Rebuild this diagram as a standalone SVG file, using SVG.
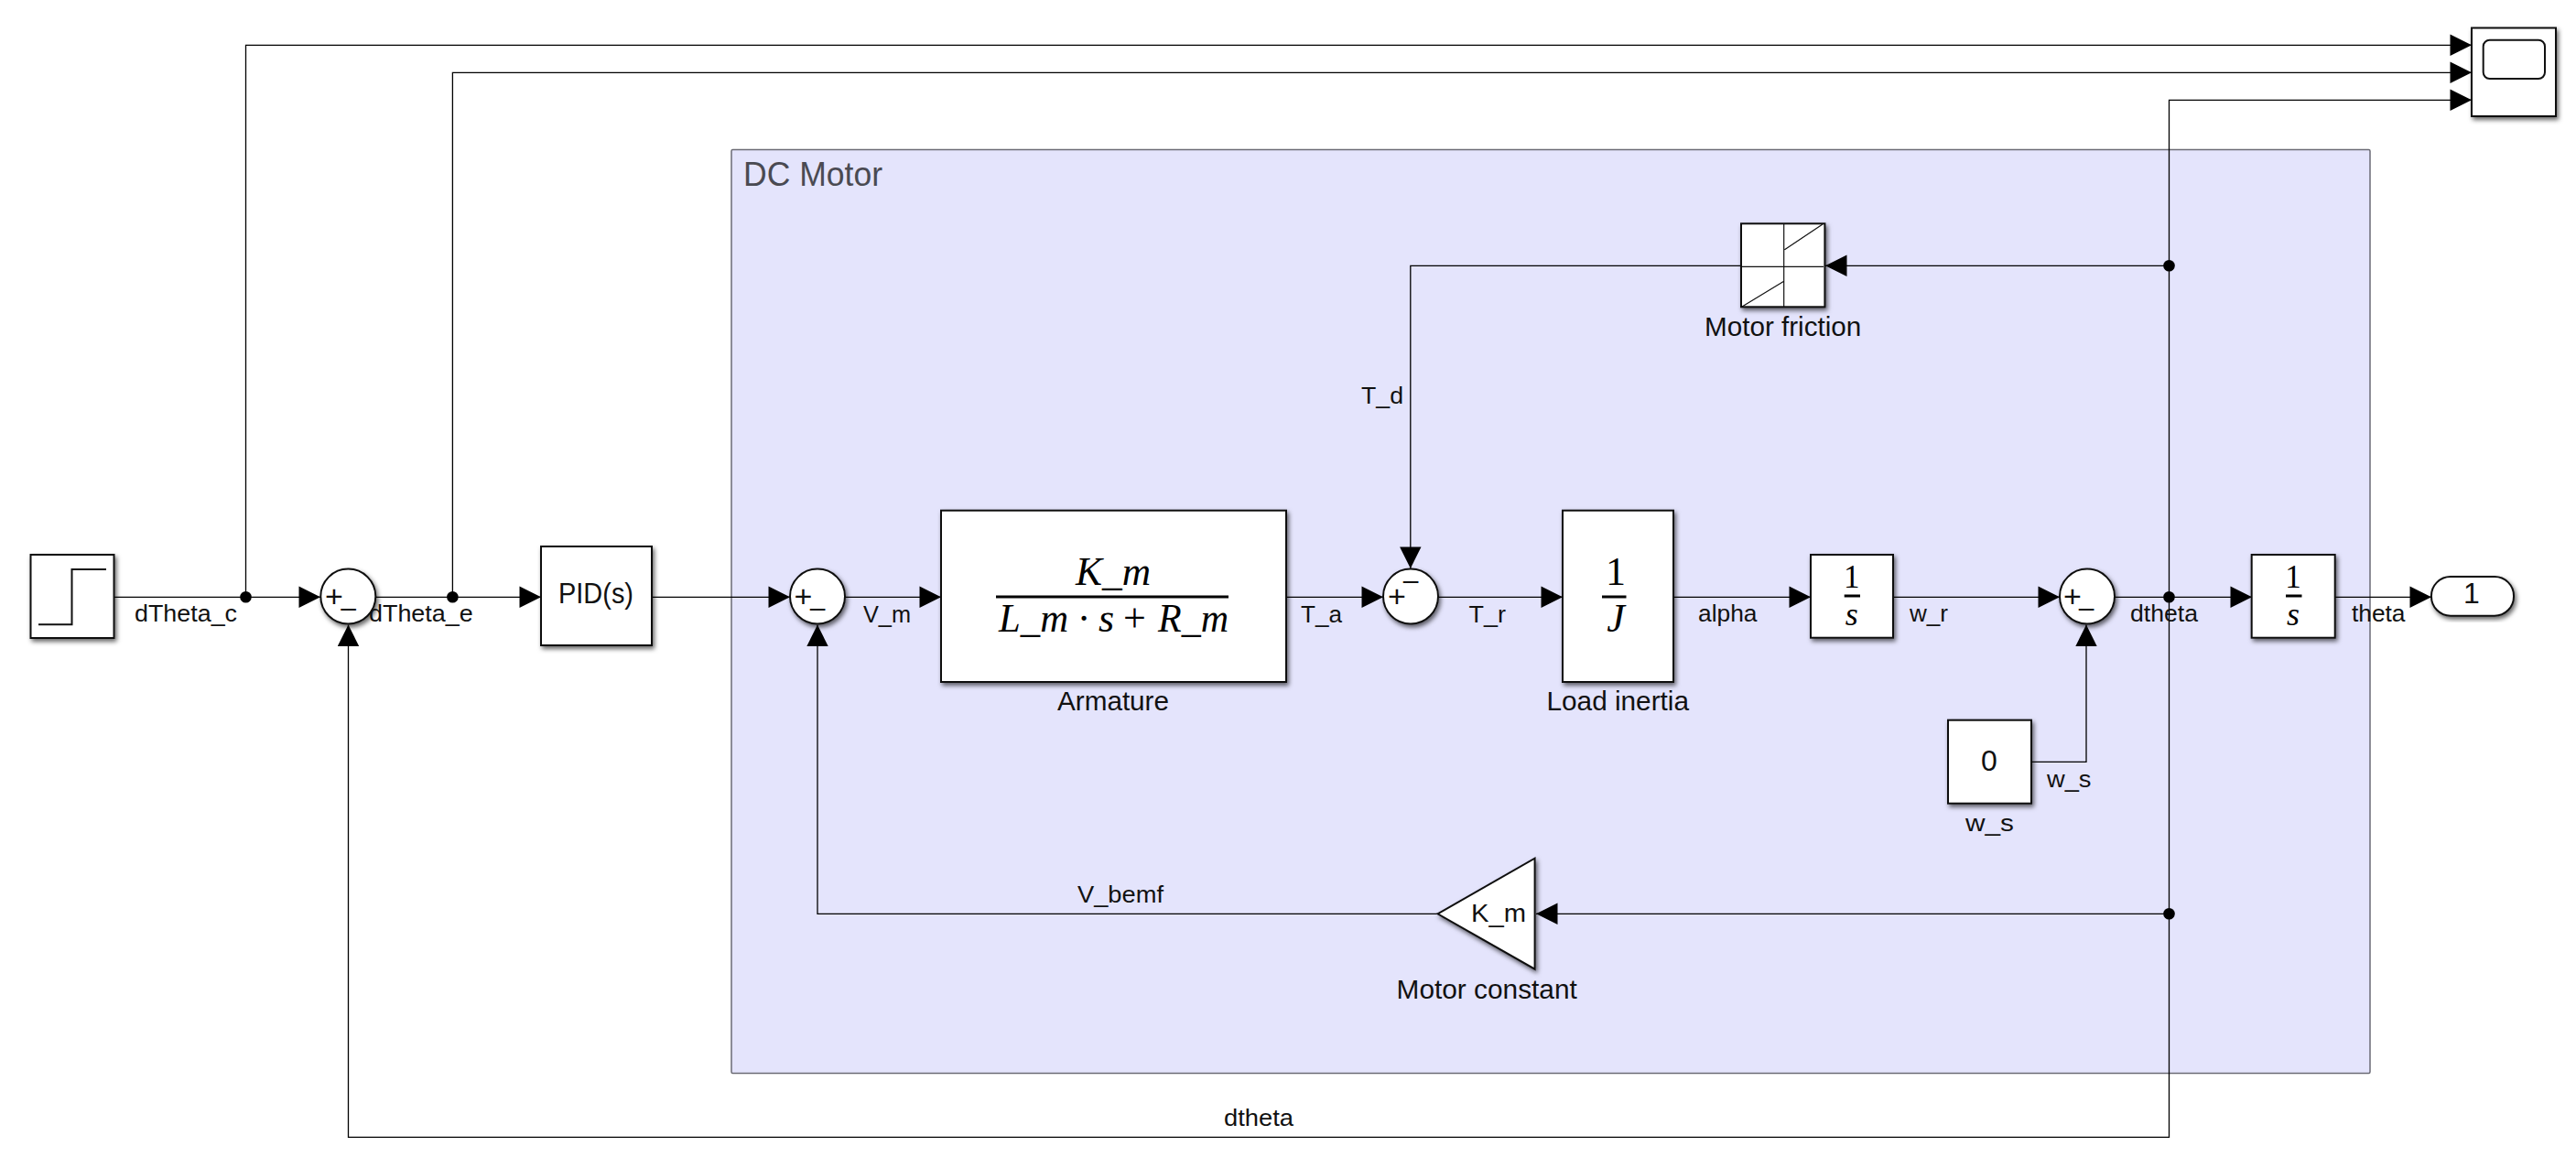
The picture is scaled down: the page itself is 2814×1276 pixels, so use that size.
<svg xmlns="http://www.w3.org/2000/svg" width="2814" height="1276" viewBox="0 0 2814 1276">
<style>
text{font-family:"Liberation Sans",Arial,sans-serif;fill:#111}
.sig{font-size:26px}
.lab{font-size:30px}
.val{font-size:32px}
.sgn{font-size:30px;text-anchor:middle}
.pls{font-size:34px;text-anchor:middle}
.math{font-family:"Liberation Serif","Times New Roman",serif;font-size:44px;font-style:italic;fill:#000}
.up{font-style:normal}
.mid{text-anchor:middle}
.blk{fill:#fff;stroke:#111;stroke-width:2;filter:url(#sh)}
.ink{fill:none;stroke:#111;stroke-width:2}
.thin{fill:none;stroke:#111;stroke-width:1.2}
.bar{stroke:#000;stroke-width:3;fill:none}
.wire{fill:none;stroke:#000;stroke-width:1.3;marker-end:url(#ah)}
.dot{fill:#000}
</style>
<defs>
<filter id="sh" x="-15%" y="-15%" width="130%" height="130%"><feDropShadow dx="2" dy="3" stdDeviation="2.5" flood-color="#000" flood-opacity="0.6"/></filter>
<marker id="ah" markerUnits="userSpaceOnUse" markerWidth="24" markerHeight="24" viewBox="0 0 24 24" refX="24" refY="12" orient="auto"><path d="M0.5 0.3 L24 12 L0.5 23.7 Z" fill="#000"/></marker>
</defs>
<rect width="2814" height="1276" fill="#fff"/>
<g id="dc-motor-area">
<rect x="799" y="163.5" width="1790" height="1009" rx="1.5" fill="#e4e4fc" stroke="#6b6b75" stroke-width="1.5"/>
<text x="812" y="202.7" font-size="36" style="fill:#4a4a52" textLength="152" lengthAdjust="spacingAndGlyphs">DC Motor</text>
</g>
<g id="connectors">
<path class="wire" d="M125 652.3H350"/>
<path class="wire" d="M268.5 652.3V49.3H2700"/>
<path class="wire" d="M410.5 652.3H591"/>
<path class="wire" d="M494.4 652.3V79.3H2700"/>
<path class="wire" d="M712 652.3H863"/>
<path class="wire" d="M923 652.3H1028"/>
<path class="wire" d="M1405 652.3H1511"/>
<path class="wire" d="M1571 652.3H1707"/>
<path class="wire" d="M1828 652.3H1978"/>
<path class="wire" d="M2068 652.3H2250"/>
<path class="wire" d="M2310 652.3H2460"/>
<path class="wire" d="M2551 652.3H2656"/>
<path class="wire" d="M2219 832.3H2279V682.5"/>
<path class="wire" d="M2369.5 652.3V109.3H2700"/>
<path class="wire" d="M2369.5 290.3H1994"/>
<path class="wire" d="M1902 290.3H1540.8V621"/>
<path class="wire" d="M2369.5 652.3V1242.3H380.5V682.5"/>
<path class="wire" d="M2369.5 998.3H1678"/>
<path class="wire" d="M1570.5 998.3H893V682.5"/>
<circle class="dot" cx="268.5" cy="652.3" r="6.3"/>
<circle class="dot" cx="494.4" cy="652.3" r="6.3"/>
<circle class="dot" cx="2369.5" cy="652.3" r="6.3"/>
<circle class="dot" cx="2369.5" cy="290.3" r="6.3"/>
<circle class="dot" cx="2369.5" cy="998.3" r="6.3"/>
</g>
<g id="step"><rect class="blk" x="33.5" y="606" width="91" height="91"/><path class="ink" d="M42 682.3H78.5V622H116"/></g>
<g id="sum1"><circle class="blk" cx="380.3" cy="651.6" r="30"/><text class="pls" x="365" y="663">+</text><text class="sgn" x="380.5" y="674">–</text></g>
<g id="pid"><rect class="blk" x="591" y="597" width="121" height="108"/><text class="val" x="610" y="659" textLength="82" lengthAdjust="spacingAndGlyphs">PID(s)</text></g>
<g id="sum2"><circle class="blk" cx="893" cy="651.6" r="30"/><text class="pls" x="877.5" y="663">+</text><text class="sgn" x="893" y="674">–</text></g>
<g id="armature"><rect class="blk" x="1028" y="557.7" width="377" height="187.3"/>
<text class="math" x="1175" y="639" textLength="82" lengthAdjust="spacingAndGlyphs">K_m</text>
<path class="bar" d="M1088 652H1342"/>
<text class="math" x="1091" y="690" textLength="76" lengthAdjust="spacingAndGlyphs">L_m</text>
<text class="math up" x="1184" y="690" text-anchor="middle">·</text>
<text class="math" x="1200" y="690">s</text>
<text class="math up" x="1239.5" y="690" text-anchor="middle">+</text>
<text class="math" x="1265" y="690" textLength="77" lengthAdjust="spacingAndGlyphs">R_m</text>
<text class="lab" x="1155" y="776" textLength="122" lengthAdjust="spacingAndGlyphs">Armature</text></g>
<g id="sum3"><circle class="blk" cx="1541" cy="651.6" r="30"/><text class="pls" x="1526" y="663">+</text><text class="sgn" x="1541" y="644">–</text></g>
<g id="load-inertia"><rect class="blk" x="1707" y="557.7" width="121" height="187.3"/>
<text class="math up mid" x="1765" y="639">1</text><path class="bar" d="M1750 652H1776.5"/><text class="math mid" x="1765" y="690">J</text>
<text class="lab" x="1689.5" y="776" textLength="155.5" lengthAdjust="spacingAndGlyphs">Load inertia</text></g>
<g id="integrator1"><rect class="blk" x="1978" y="606" width="90" height="90.7"/>
<text class="math up mid" style="font-size:35px" x="2022.7" y="641.7">1</text><path class="bar" d="M2014.7 651H2032"/><text class="math mid" style="font-size:36px" x="2022.7" y="682.7">s</text></g>
<g id="sum4"><circle class="blk" cx="2280" cy="651.6" r="30"/><text class="pls" x="2264" y="663">+</text><text class="sgn" x="2279" y="674">–</text></g>
<g id="w-s"><rect class="blk" x="2128" y="786.7" width="91" height="91"/><text class="val mid" x="2173" y="842">0</text>
<text class="lab" style="font-size:26px" x="2147" y="908" textLength="53" lengthAdjust="spacingAndGlyphs">w_s</text></g>
<g id="integrator2"><rect class="blk" x="2459.7" y="606" width="91" height="90.7"/>
<text class="math up mid" style="font-size:35px" x="2505" y="641.7">1</text><path class="bar" d="M2497 651H2514.5"/><text class="math mid" style="font-size:36px" x="2505" y="682.7">s</text></g>
<g id="outport"><rect class="blk" x="2656" y="630" width="90" height="42.7" rx="21"/><text class="val mid" x="2700" y="659">1</text></g>
<g id="scope"><rect class="blk" x="2700" y="30.5" width="92" height="96.5"/><rect class="ink" x="2712.7" y="43.7" width="67.3" height="42.3" rx="7"/></g>
<g id="motor-friction"><rect class="blk" x="1902" y="244.3" width="91.4" height="91"/>
<path class="thin" d="M1948.7 245V335M1903 291.3H1992M1949.5 272.7L1991 245M1903 335L1948.7 307.3"/>
<text class="lab" x="1862" y="366.7" textLength="171.3" lengthAdjust="spacingAndGlyphs">Motor friction</text></g>
<g id="motor-constant"><path class="blk" d="M1570.5 998.3L1676.6 937.7V1058.7Z"/>
<text class="val" style="font-size:28px" x="1607" y="1007" textLength="60" lengthAdjust="spacingAndGlyphs">K_m</text>
<text class="lab" x="1525.6" y="1090.7" textLength="197.2" lengthAdjust="spacingAndGlyphs">Motor constant</text></g>
<g id="signal-labels">
<text class="sig" x="147" y="679.3" textLength="112" lengthAdjust="spacingAndGlyphs">dTheta_c</text>
<text class="sig" x="403" y="679.3" textLength="113.7" lengthAdjust="spacingAndGlyphs">dTheta_e</text>
<text class="sig" x="943" y="680" textLength="52" lengthAdjust="spacingAndGlyphs">V_m</text>
<text class="sig" x="1421" y="680" textLength="45" lengthAdjust="spacingAndGlyphs">T_a</text>
<text class="sig" x="1604.6" y="680" textLength="40.4" lengthAdjust="spacingAndGlyphs">T_r</text>
<text class="sig" x="1855" y="679.3" textLength="64.5" lengthAdjust="spacingAndGlyphs">alpha</text>
<text class="sig" x="2086" y="679.3" textLength="42" lengthAdjust="spacingAndGlyphs">w_r</text>
<text class="sig" x="2327" y="679.3" textLength="74" lengthAdjust="spacingAndGlyphs">dtheta</text>
<text class="sig" x="2569" y="679.3" textLength="58.5" lengthAdjust="spacingAndGlyphs">theta</text>
<text class="sig" x="2236" y="860" textLength="48.5" lengthAdjust="spacingAndGlyphs">w_s</text>
<text class="sig" x="1487" y="440.7" textLength="46" lengthAdjust="spacingAndGlyphs">T_d</text>
<text class="sig" x="1177" y="985.5" textLength="94" lengthAdjust="spacingAndGlyphs">V_bemf</text>
<text class="sig" x="1337" y="1229.6" textLength="76" lengthAdjust="spacingAndGlyphs">dtheta</text>
</g>
</svg>
